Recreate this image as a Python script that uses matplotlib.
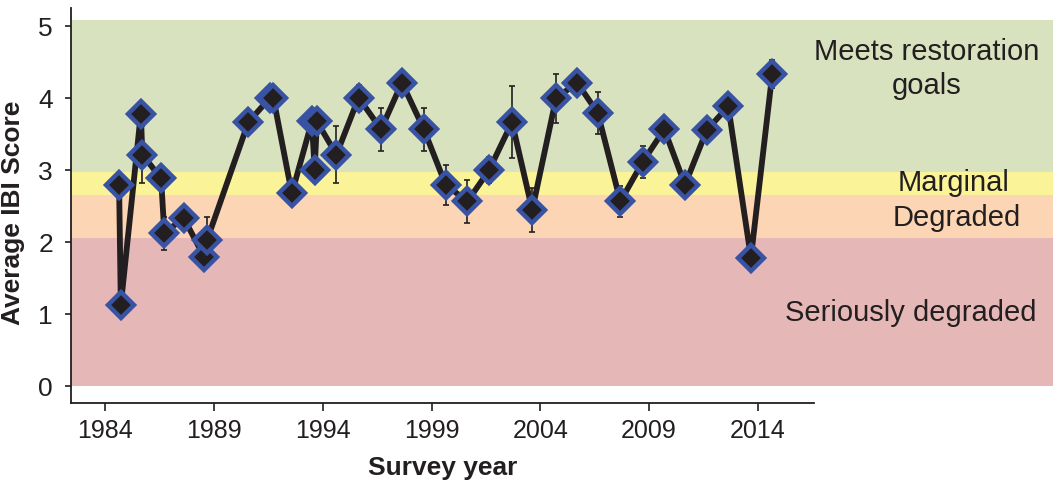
import matplotlib
matplotlib.use("Agg")
import matplotlib.pyplot as plt

plt.rcParams['font.family'] = ['Liberation Sans', 'DejaVu Sans']

# ---- data ----
years = [1984.64, 1984.72, 1985.64, 1985.71, 1986.57, 1986.72, 1987.61, 1988.55, 1988.68,
         1990.58, 1991.58, 1991.73, 1992.58, 1993.50, 1993.63, 1993.73, 1994.63, 1995.65,
         1996.68, 1997.64, 1998.65, 1999.65, 2000.65, 2001.64, 2002.70, 2003.63, 2004.72,
         2005.69, 2006.64, 2007.68, 2008.71, 2009.70, 2010.65, 2011.65, 2012.64, 2013.68,
         2014.66]
ibi = [2.79, 1.12, 3.78, 3.21, 2.88, 2.12, 2.33, 1.79, 2.02,
       3.66, 4.00, 4.00, 2.67, 3.67, 3.00, 3.67, 3.21, 4.00,
       3.56, 4.21, 3.56, 2.79, 2.56, 2.99, 3.66, 2.44, 3.99,
       4.21, 3.79, 2.56, 3.11, 3.56, 2.79, 3.55, 3.88, 1.78,
       4.33]
err = [0, 0, 0, 0.40, 0, 0.23, 0, 0, 0.32,
       0, 0, 0, 0, 0, 0, 0, 0.40, 0.18,
       0.30, 0, 0.30, 0.28, 0.30, 0.18, 0.50, 0.30, 0.34,
       0, 0.29, 0.22, 0.22, 0, 0, 0, 0, 0,
       0.19]

bands = [(0.0, 2.05, '#e5b8b7'), (2.05, 2.65, '#fcd5b4'),
         (2.65, 2.97, '#fbf397'), (2.97, 5.08, '#d8e2bf')]
band_labels = ['Meets restoration\ngoals', 'Marginal', 'Degraded', 'Seriously degraded']
band_label_pos = [(2021.77, 4.41), (2023.0, 2.83), (2023.15, 2.34), (2021.04, 1.02)]
xticks = [1984, 1989, 1994, 1999, 2004, 2009, 2014]
yticks = [0, 1, 2, 3, 4, 5]

dark = '#231f20'
blue = '#3953a4'

fig = plt.figure(figsize=(10.53, 4.85), dpi=100)
ax = fig.add_axes([71/1053, 1-404/485, (813.8-71)/1053, (404-9)/485])
ax.set_xlim(1982.43, 2016.57)
ax.set_ylim(-0.24, 5.246)

xfrac_right = (1053 - 71) / (813.8 - 71)
for lo, hi, c in bands:
    ax.axhspan(lo, hi, xmin=0, xmax=xfrac_right, color=c, lw=0, clip_on=False, zorder=0)

ax.errorbar(years, ibi, yerr=err, fmt='none', ecolor=dark, elinewidth=1.2,
            capsize=2.5, capthick=1.2, zorder=3)
ax.plot(years, ibi, color=dark, lw=4.2, zorder=4, solid_joinstyle='round')
ax.plot(years, ibi, 'D', ms=13, mfc=dark, mec=blue, mew=3.2, zorder=5, ls='none')

for (tx, ty), lab in zip(band_label_pos, band_labels):
    ax.text(tx, ty, lab, ha='center', va='center', fontsize=21, color=dark,
            linespacing=1.25, clip_on=False)

for s in ['top', 'right']:
    ax.spines[s].set_visible(False)
for s in ['left', 'bottom']:
    ax.spines[s].set_linewidth(1.3)
    ax.spines[s].set_color(dark)

ax.set_xticks(xticks)
ax.set_yticks(yticks)
ax.tick_params(axis='x', direction='out', length=6, width=1.2, colors=dark,
               labelsize=18, pad=5)
ax.tick_params(axis='y', direction='out', length=4, width=1.2, colors=dark,
               labelsize=19, pad=9)
ax.set_xlabel('Survey year', fontsize=19, fontweight='bold', color=dark, labelpad=9)
ax.set_ylabel('Average IBI Score', fontsize=19, fontweight='bold', color=dark)
ax.yaxis.set_label_coords(-0.062, 0.485)

fig.savefig('out.png', dpi=100)
